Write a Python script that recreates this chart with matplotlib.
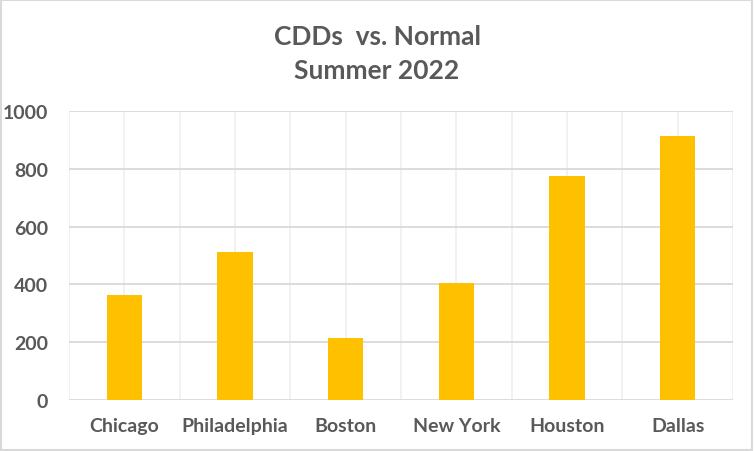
import matplotlib
matplotlib.use("Agg")
import matplotlib.pyplot as plt
from matplotlib.patches import Rectangle
import numpy as np

categories = ["Chicago", "Philadelphia", "Boston", "New York", "Houston", "Dallas"]
cdds = [363, 512, 214, 405, 775, 913]
yticks = [0, 200, 400, 600, 800, 1000]
title_lines = ["CDDs  vs. Normal", "Summer 2022"]

TXT = "#595959"
FONT = ["Lato", "DejaVu Sans"]

fig = plt.figure(figsize=(7.54, 4.52), dpi=100)
fig.patch.set_facecolor("white")
ax = fig.add_axes([69/754, 51/452, (733-69)/754, (401-112)/452])

x = np.arange(len(categories))
ax.bar(x, cdds, width=0.32, color="#FFC000", zorder=3)

ax.set_xlim(-0.5, len(categories) - 0.5)
ax.set_ylim(0, 1000)
ax.set_yticks(yticks)
ax.set_yticklabels([str(v) for v in yticks])
ax.set_xticks(x)
ax.set_xticklabels(categories)

# vertical light gridlines at category centers and boundaries
for v in np.arange(-0.5, len(categories) - 0.4, 0.5):
    ax.axvline(v, color="#F0F0F0", lw=1.3, zorder=1)
for v in yticks:
    ax.axhline(v, color="#D9D9D9", lw=1.3, zorder=2)

for s in ax.spines.values():
    s.set_visible(False)
ax.tick_params(axis="both", length=0, colors=TXT)
ax.tick_params(axis="y", pad=15)
ax.tick_params(axis="x", pad=12)
for lab in ax.get_xticklabels() + ax.get_yticklabels():
    lab.set_fontfamily(FONT)
    lab.set_fontweight("bold")
    lab.set_fontsize(14)
    lab.set_color(TXT)

fig.text(0.5, 1 - 37/452, title_lines[0], ha="center", va="center",
         fontsize=19, fontweight="bold", color=TXT, family=FONT)
fig.text(0.5, 1 - 71/452, title_lines[1], ha="center", va="center",
         fontsize=19, fontweight="bold", color=TXT, family=FONT)

fig.add_artist(Rectangle((0.001, 0.002), 0.997, 0.996, transform=fig.transFigure,
                         fill=False, edgecolor="#D9D9D9", lw=1.5))

fig.savefig("out.png", dpi=100, facecolor="white")
